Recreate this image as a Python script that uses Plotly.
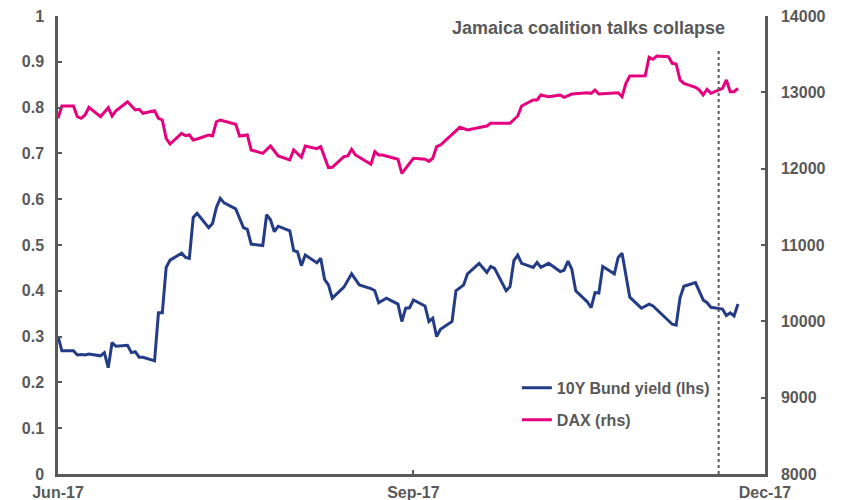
import plotly.graph_objects as go

# 10Y Bund yield (%, left axis)
bund_dates = [
    "2017-06-01", "2017-06-02", "2017-06-05", "2017-06-06", "2017-06-07", "2017-06-08",
    "2017-06-09", "2017-06-12", "2017-06-13", "2017-06-14", "2017-06-15", "2017-06-16",
    "2017-06-19", "2017-06-20", "2017-06-21", "2017-06-22", "2017-06-23", "2017-06-26",
    "2017-06-27", "2017-06-28", "2017-06-29", "2017-06-30", "2017-07-03", "2017-07-04",
    "2017-07-05", "2017-07-06", "2017-07-07", "2017-07-10", "2017-07-11", "2017-07-12",
    "2017-07-13", "2017-07-14", "2017-07-17", "2017-07-18", "2017-07-19", "2017-07-20",
    "2017-07-21", "2017-07-24", "2017-07-25", "2017-07-26", "2017-07-27", "2017-07-28",
    "2017-07-31", "2017-08-01", "2017-08-02", "2017-08-03", "2017-08-04", "2017-08-07",
    "2017-08-08", "2017-08-09", "2017-08-10", "2017-08-11", "2017-08-14", "2017-08-16",
    "2017-08-18", "2017-08-21", "2017-08-22", "2017-08-23", "2017-08-25", "2017-08-28",
    "2017-08-29", "2017-08-30", "2017-08-31", "2017-09-01", "2017-09-04", "2017-09-05",
    "2017-09-06", "2017-09-07", "2017-09-08", "2017-09-11", "2017-09-12", "2017-09-14",
    "2017-09-15", "2017-09-18", "2017-09-20", "2017-09-21", "2017-09-22", "2017-09-25",
    "2017-09-26", "2017-09-27", "2017-09-28", "2017-09-29", "2017-10-02", "2017-10-03",
    "2017-10-04", "2017-10-06", "2017-10-09", "2017-10-10", "2017-10-11", "2017-10-12",
    "2017-10-13", "2017-10-16", "2017-10-17", "2017-10-18", "2017-10-19", "2017-10-20",
    "2017-10-23", "2017-10-24", "2017-10-25", "2017-10-27", "2017-10-30", "2017-11-01",
    "2017-11-02", "2017-11-07", "2017-11-08", "2017-11-09", "2017-11-10", "2017-11-13",
    "2017-11-15", "2017-11-16", "2017-11-17", "2017-11-20", "2017-11-21", "2017-11-22",
    "2017-11-23", "2017-11-24",
]
bund_values = [
    0.301, 0.269, 0.269, 0.260, 0.261, 0.260,
    0.262, 0.258, 0.265, 0.232, 0.287, 0.279,
    0.281, 0.265, 0.267, 0.255, 0.255, 0.247,
    0.352, 0.352, 0.451, 0.467, 0.482, 0.473,
    0.471, 0.560, 0.569, 0.538, 0.547, 0.582,
    0.602, 0.592, 0.579, 0.560, 0.538, 0.534,
    0.502, 0.499, 0.566, 0.555, 0.529, 0.541,
    0.531, 0.488, 0.485, 0.455, 0.478, 0.461,
    0.471, 0.425, 0.413, 0.384, 0.408, 0.437,
    0.413, 0.405, 0.400, 0.374, 0.384, 0.371,
    0.333, 0.362, 0.363, 0.380, 0.367, 0.333,
    0.340, 0.300, 0.316, 0.333, 0.400, 0.413,
    0.437, 0.460, 0.440, 0.453, 0.449, 0.400,
    0.409, 0.466, 0.478, 0.460, 0.451, 0.462,
    0.451, 0.460, 0.442, 0.445, 0.465, 0.447,
    0.400, 0.376, 0.363, 0.396, 0.395, 0.453,
    0.437, 0.473, 0.482, 0.386, 0.362, 0.371,
    0.367, 0.327, 0.325, 0.384, 0.410, 0.418,
    0.380, 0.374, 0.364, 0.360, 0.346, 0.352,
    0.345, 0.371,
]

# DAX index level (right axis)
dax_dates = [
    "2017-06-01", "2017-06-02", "2017-06-05", "2017-06-06", "2017-06-07", "2017-06-08",
    "2017-06-09", "2017-06-12", "2017-06-14", "2017-06-15", "2017-06-16", "2017-06-19",
    "2017-06-21", "2017-06-22", "2017-06-23", "2017-06-26", "2017-06-27", "2017-06-28",
    "2017-06-29", "2017-06-30", "2017-07-03", "2017-07-04", "2017-07-05", "2017-07-06",
    "2017-07-07", "2017-07-10", "2017-07-11", "2017-07-12", "2017-07-13", "2017-07-17",
    "2017-07-18", "2017-07-20", "2017-07-21", "2017-07-24", "2017-07-26", "2017-07-28",
    "2017-07-31", "2017-08-01", "2017-08-03", "2017-08-04", "2017-08-07", "2017-08-08",
    "2017-08-10", "2017-08-11", "2017-08-14", "2017-08-15", "2017-08-16", "2017-08-17",
    "2017-08-21", "2017-08-22", "2017-08-23", "2017-08-24", "2017-08-28", "2017-08-29",
    "2017-09-01", "2017-09-04", "2017-09-05", "2017-09-06", "2017-09-07", "2017-09-08",
    "2017-09-13", "2017-09-15", "2017-09-19", "2017-09-20", "2017-09-21", "2017-09-26",
    "2017-09-28", "2017-09-29", "2017-10-02", "2017-10-03", "2017-10-04", "2017-10-06",
    "2017-10-09", "2017-10-10", "2017-10-12", "2017-10-16", "2017-10-17", "2017-10-18",
    "2017-10-19", "2017-10-24", "2017-10-25", "2017-10-26", "2017-10-27", "2017-10-31",
    "2017-11-01", "2017-11-02", "2017-11-03", "2017-11-06", "2017-11-07", "2017-11-08",
    "2017-11-09", "2017-11-10", "2017-11-13", "2017-11-14", "2017-11-15", "2017-11-16",
    "2017-11-17", "2017-11-20", "2017-11-21", "2017-11-22", "2017-11-23", "2017-11-24",
]
dax_values = [
    12660, 12821, 12821, 12681, 12660, 12703,
    12804, 12681, 12799, 12690, 12759, 12877,
    12769, 12778, 12725, 12759, 12660, 12638,
    12398, 12323, 12463, 12432, 12441, 12376,
    12389, 12441, 12428, 12615, 12638, 12581,
    12428, 12441, 12245, 12201, 12297, 12166,
    12114, 12245, 12149, 12297, 12262, 12288,
    12013, 12018, 12157, 12166, 12254, 12179,
    12057, 12222, 12179, 12179, 12123, 11939,
    12136, 12123, 12095, 12136, 12288, 12310,
    12542, 12507, 12550, 12559, 12594, 12594,
    12690, 12821, 12900, 12900, 12965, 12943,
    12965, 12935, 12978, 12995, 12987, 13031,
    12978, 12995, 12943, 13118, 13214, 13218,
    13459, 13433, 13476, 13467, 13380, 13371,
    13162, 13118, 13066, 13031, 12965, 13040,
    12987, 13053, 13162, 13008, 13008, 13053,
]

x_tick_vals = ["2017-06-01", "2017-09-01", "2017-12-01"]
x_tick_text = ["Jun-17", "Sep-17", "Dec-17"]
event_date = "2017-11-19"
event_label = "Jamaica coalition talks collapse"

GREY = "#595959"
NAVY = "#233C85"
MAGENTA = "#E5007D"
FONT = "Liberation Sans"

fig = go.Figure()
fig.add_trace(go.Scatter(
    x=bund_dates, y=bund_values, mode="lines", name="10Y Bund yield (lhs)",
    line=dict(color=NAVY, width=3), yaxis="y", legendgroup="a",
))
fig.add_trace(go.Scatter(
    x=dax_dates, y=dax_values, mode="lines", name="DAX (rhs)",
    line=dict(color=MAGENTA, width=3), yaxis="y2", legendgroup="b",
))

# vertical marker for the event
fig.add_shape(
    type="line", xref="x", yref="paper", x0=event_date, x1=event_date, y0=0, y1=0.928,
    line=dict(color=GREY, width=2, dash="dot"),
)
fig.add_annotation(
    text=event_label, xref="paper", yref="paper", x=0.946, y=0.974,
    xanchor="right", yanchor="middle", showarrow=False,
    font=dict(family=FONT, size=18, color=GREY, weight="bold"),
)

tick_font = dict(family=FONT, size=16, color=GREY, weight="bold")

fig.update_layout(
    width=845, height=500,
    margin=dict(l=58, r=80, t=16, b=26),
    plot_bgcolor="white", paper_bgcolor="white",
    showlegend=True,
    legend=dict(
        x=0.649, y=0.225, xanchor="left", yanchor="top",
        font=dict(family=FONT, size=16, color=GREY, weight="bold"),
        bgcolor="rgba(0,0,0,0)", tracegroupgap=8, traceorder="grouped",
    ),
    xaxis=dict(
        type="date", range=["2017-06-01", "2017-12-01"], automargin=False,
        tickmode="array", tickvals=x_tick_vals, ticktext=x_tick_text,
        showgrid=False, zeroline=False, showline=True, linecolor=GREY, linewidth=2.5,
        ticks="inside", ticklen=4, tickwidth=1.5, tickcolor=GREY,
        tickfont=tick_font, ticklabelstandoff=2,
    ),
    yaxis=dict(
        range=[0, 1], dtick=0.1, tick0=0, automargin=False,
        showgrid=False, zeroline=False, showline=True, linecolor=GREY, linewidth=2.5,
        ticks="inside", ticklen=4, tickwidth=2, tickcolor=GREY,
        tickfont=tick_font, ticklabelstandoff=8,
    ),
    yaxis2=dict(
        range=[8000, 14000], dtick=1000, tick0=8000, tickformat="d", automargin=False,
        overlaying="y", side="right", anchor="x",
        showgrid=False, zeroline=False, showline=True, linecolor=GREY, linewidth=2.5,
        ticks="inside", ticklen=4, tickwidth=2, tickcolor=GREY,
        tickfont=tick_font, ticklabelstandoff=10,
    ),
)

fig.write_html("out.html")
